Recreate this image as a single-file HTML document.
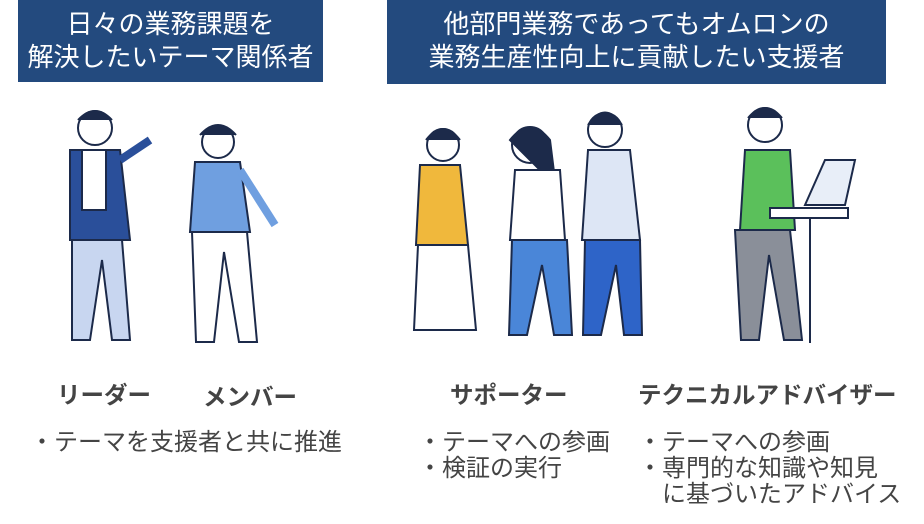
<!DOCTYPE html>
<html><head><meta charset="utf-8"><style>
body{margin:0;width:924px;height:524px;background:#fff;position:relative;overflow:hidden;font-family:"Liberation Sans","Noto Sans CJK JP",sans-serif}
.hd{position:absolute;background:#234a7e;color:#fff;text-align:center;font-size:26px;line-height:33px;padding-top:8px;box-sizing:border-box}
.t{position:absolute;white-space:nowrap;color:#333}
.n{font-weight:bold;font-size:23.5px;line-height:1;color:#444}
.b{font-size:24px;color:#444;line-height:26px}
</style></head><body>
<div class="hd" style="left:18px;top:0;width:305px;height:82px">日々の業務課題を<br>解決したいテーマ関係者</div>
<div class="hd" style="left:387px;top:0;width:499px;height:84px">他部門業務であってもオムロンの<br>業務生産性向上に貢献したい支援者</div>
<svg style="position:absolute;left:0;top:0" width="924" height="524" fill="none" stroke="#1c2a4a" stroke-width="2">
<circle cx="95" cy="128" r="17" fill="#fff"/><path d="M78 120 q17 -18 34 0" fill="#1c2a4a"/>
<path d="M70 150 l50 0 l10 90 l-60 0z" fill="#2a4f9a"/><rect x="82" y="150" width="24" height="60" fill="#fff"/>
<path d="M72 240 l50 0 l8 100 l-18 0 l-10 -80 l-12 80 l-18 0z" fill="#c8d6f0"/>
<path d="M120 160 l30 -20" stroke-width="8" stroke="#2a4f9a"/>
<circle cx="218" cy="142" r="16" fill="#fff"/><path d="M200 135 q18 -20 36 0" fill="#1c2a4a"/>
<path d="M195 162 l45 0 l10 70 l-60 0z" fill="#6f9fe0"/>
<path d="M192 232 l55 0 l10 110 l-18 0 l-15 -90 l-10 90 l-18 0z" fill="#fff"/>
<path d="M240 170 l35 55" stroke-width="8" stroke="#6f9fe0"/>
<circle cx="443" cy="145" r="16" fill="#fff"/><path d="M426 140 q17 -22 34 0" fill="#1c2a4a"/>
<path d="M420 165 l40 0 l8 80 l-52 0z" fill="#f0b83c"/>
<path d="M418 245 l50 0 l8 85 l-62 0z" fill="#fff"/>
<circle cx="530" cy="145" r="18" fill="#fff"/><path d="M510 140 q20 -25 40 0 l5 40 l-10 -5z" fill="#1c2a4a"/>
<path d="M515 170 l45 0 l5 70 l-55 0z" fill="#fff"/>
<path d="M512 240 l55 0 l5 95 l-18 0 l-12 -70 l-15 70 l-18 0z" fill="#4a86d8"/>
<circle cx="605" cy="130" r="17" fill="#fff"/><path d="M588 125 q17 -25 34 0" fill="#1c2a4a"/>
<path d="M588 150 l42 0 l10 90 l-58 0z" fill="#dde6f5"/>
<path d="M585 240 l55 0 l2 95 l-18 0 l-8 -70 l-15 70 l-18 0z" fill="#2e64c8"/>
<circle cx="765" cy="125" r="17" fill="#fff"/><path d="M748 118 q17 -20 34 0" fill="#1c2a4a"/>
<path d="M745 150 l45 0 l5 80 l-55 0z" fill="#5bc05b"/>
<path d="M735 230 l55 0 l12 110 l-18 0 l-15 -85 l-10 85 l-18 0z" fill="#8a8f99"/>
<rect x="770" y="208" width="78" height="10" fill="#fff"/><path d="M810 218 v125" /><path d="M805 205 l20 -45 l30 0 l-10 45z" fill="#e8eef8"/>
</svg>
<div class="t n" style="left:57px;top:384px">リーダー</div>
<div class="t n" style="left:203px;top:386px">メンバー</div>
<div class="t n" style="left:450px;top:384px">サポーター</div>
<div class="t n" style="left:638px;top:384px">テクニカルアドバイザー</div>
<div class="t b" style="left:30px;top:430px">・テーマを支援者と共に推進</div>
<div class="t b" style="left:418px;top:430px">・テーマへの参画<br>・検証の実行</div>
<div class="t b" style="left:638px;top:430px">・テーマへの参画<br>・専門的な知識や知見<br><span style="padding-left:24px">に基づいたアドバイス</span></div>
</body></html>
